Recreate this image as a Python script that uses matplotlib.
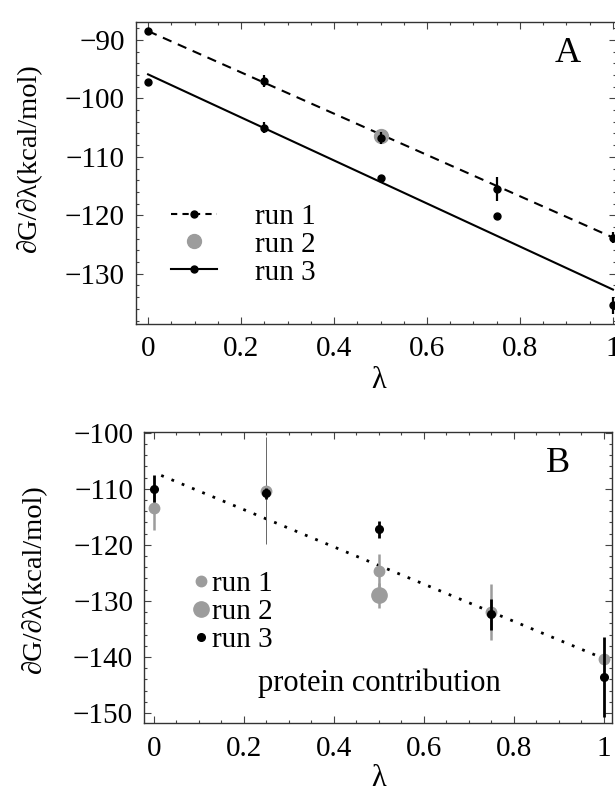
import matplotlib
matplotlib.use("Agg")
import matplotlib.pyplot as plt
from matplotlib.lines import Line2D
from matplotlib.ticker import MultipleLocator

plt.rcParams["font.family"] = ["Liberation Serif", "DejaVu Serif"]

lam = [0, 0.25, 0.5, 0.75, 1.0]

# panel A
a_run1 = [-88.5, -97.0, -106.8, -115.5, -123.8]
a_run1_err = [0.0, 1.0, 1.0, 2.0, 1.0]
a_run3 = [-97.2, -105.0, -113.6, -120.1, -135.4]
a_run3_err = [0.0, 1.0, 0.0, 0.0, 1.5]
a_run2_lam = [0.5]
a_run2 = [-106.4]
a_fit_lam = [0, 1]
a_fit1 = [-88.5, -123.8]
a_fit3 = [-95.9, -132.7]

# panel B (protein contribution)
b_run1 = [-113.4, -110.3, -124.6, -132.0, -140.3]
b_run1_err = [4.0, 9.5, 3.0, 5.0, 0.0]
b_run2_lam = [0.5]
b_run2 = [-129.0]
b_run2_err = [2.2]
b_run3 = [-110.0, -110.8, -117.2, -132.4, -143.6]
b_run3_err = [2.4, 1.0, 1.5, 2.8, 7.2]
b_fit_lam = [0.016, 1.0]
b_fit = [-107.6, -140.3]

YLABEL = "\u2202G/\u2202\u03bb(kcal/mol)"
GRAY = "#9c9c9c"
TICK_FS = 21


def style_axes(ax, ymajor):
    ax.xaxis.set_major_locator(MultipleLocator(0.2))
    ax.xaxis.set_minor_locator(MultipleLocator(0.05))
    ax.yaxis.set_major_locator(MultipleLocator(ymajor))
    ax.yaxis.set_minor_locator(MultipleLocator(2))
    ax.xaxis.set_major_formatter(lambda v, p: f"{v:g}")
    ax.tick_params(which="both", direction="in", top=True, right=True,
                   labelsize=TICK_FS, width=0.8, color="#444")
    ax.tick_params(which="major", length=5)
    ax.tick_params(which="minor", length=2.5)
    ax.tick_params(axis="x", pad=9)
    ax.tick_params(axis="y", pad=8)
    for sp in ax.spines.values():
        sp.set_linewidth(1.0)
        sp.set_color("#333")


fig = plt.figure(figsize=(6.15, 7.9), dpi=100)

# ---- panel A ----
axA = fig.add_axes([0.2211, 0.5905, 0.7805, 0.382])
axA.plot(a_fit_lam, a_fit1, color="k", lw=1.5, ls=(0, (4.5, 3.3)), zorder=2)
axA.plot(a_fit_lam, a_fit3, color="k", lw=1.5, zorder=2)
axA.plot(a_run2_lam, a_run2, "o", color=GRAY, ms=10, zorder=3)
axA.errorbar(lam, a_run1, yerr=a_run1_err, fmt="o", color="k", ms=5,
             elinewidth=1.6, capsize=0, zorder=4)
axA.errorbar(lam, a_run3, yerr=a_run3_err, fmt="o", color="k", ms=5,
             elinewidth=1.6, capsize=0, zorder=4)
axA.set_xlim(-0.026, 1.0065)
axA.set_ylim(-138.5, -86.9)
style_axes(axA, 10)
axA.set_xlabel("\u03bb", fontsize=22)
axA.xaxis.set_label_coords(0.505, -0.19)
axA.xaxis.label.set_va("center")
axA.set_ylabel(YLABEL, fontsize=20.5)
axA.yaxis.set_label_coords(-0.2255, 0.547)
axA.yaxis.label.set_va("center")
axA.text(0.899, 0.896, "A", transform=axA.transAxes, fontsize=26,
         ha="center", va="center")

handlesA = [
    Line2D([], [], color="k", lw=1.5, ls=(0, (3, 2.5)), marker="o", ms=5),
    Line2D([], [], ls="none", marker="o", ms=10, color=GRAY),
    Line2D([], [], color="k", lw=1.5, marker="o", ms=5),
]
axA.legend(handlesA, ["run 1", "run 2", "run 3"], loc="center left",
           bbox_to_anchor=(0.072, 0.262), frameon=False, fontsize=TICK_FS,
           handlelength=1.6, handletextpad=1.3, labelspacing=0.05,
           borderpad=0, borderaxespad=0)

# ---- panel B ----
axB = fig.add_axes([0.2346, 0.0848, 0.7605, 0.3687])
axB.plot(b_fit_lam, b_fit, color="k", lw=2.0, ls=(0, (1, 3)), zorder=2)
for x, y, e in zip(lam, b_run1, b_run1_err):
    thin = e > 8
    axB.errorbar([x], [y], yerr=[e], fmt="o", ms=7.5, color=GRAY,
                 ecolor="#666" if thin else GRAY,
                 elinewidth=0.7 if thin else 1.8, capsize=0, zorder=3)
axB.errorbar(b_run2_lam, b_run2, yerr=b_run2_err, fmt="o", ms=11,
             color=GRAY, elinewidth=1.8, capsize=0, zorder=3)
axB.errorbar(lam, b_run3, yerr=b_run3_err, fmt="o", color="k", ms=5.5,
             elinewidth=2.0, capsize=0, zorder=4)
axB.set_xlim(-0.0216, 1.018)
axB.set_ylim(-151.8, -99.8)
style_axes(axB, 10)
axB.set_xlabel("\u03bb", fontsize=22)
axB.xaxis.set_label_coords(0.5, -0.19)
axB.xaxis.label.set_va("center")
axB.set_ylabel(YLABEL, fontsize=20.5)
axB.yaxis.set_label_coords(-0.238, 0.491)
axB.yaxis.label.set_va("center")
axB.text(0.885, 0.891, "B", transform=axB.transAxes, fontsize=26,
         ha="center", va="center")
axB.text(0.503, 0.137, "protein contribution", transform=axB.transAxes,
         fontsize=22, ha="center", va="center")

handlesB = [
    Line2D([], [], ls="none", marker="o", ms=7.5, color=GRAY),
    Line2D([], [], ls="none", marker="o", ms=11, color=GRAY),
    Line2D([], [], ls="none", marker="o", ms=5.5, color="k"),
]
axB.legend(handlesB, ["run 1", "run 2", "run 3"], loc="center left",
           bbox_to_anchor=(0.102, 0.382), frameon=False, fontsize=TICK_FS,
           handlelength=0.6, handletextpad=0.1, labelspacing=0.05,
           borderpad=0, borderaxespad=0)

fig.savefig("out.png", dpi=100)
